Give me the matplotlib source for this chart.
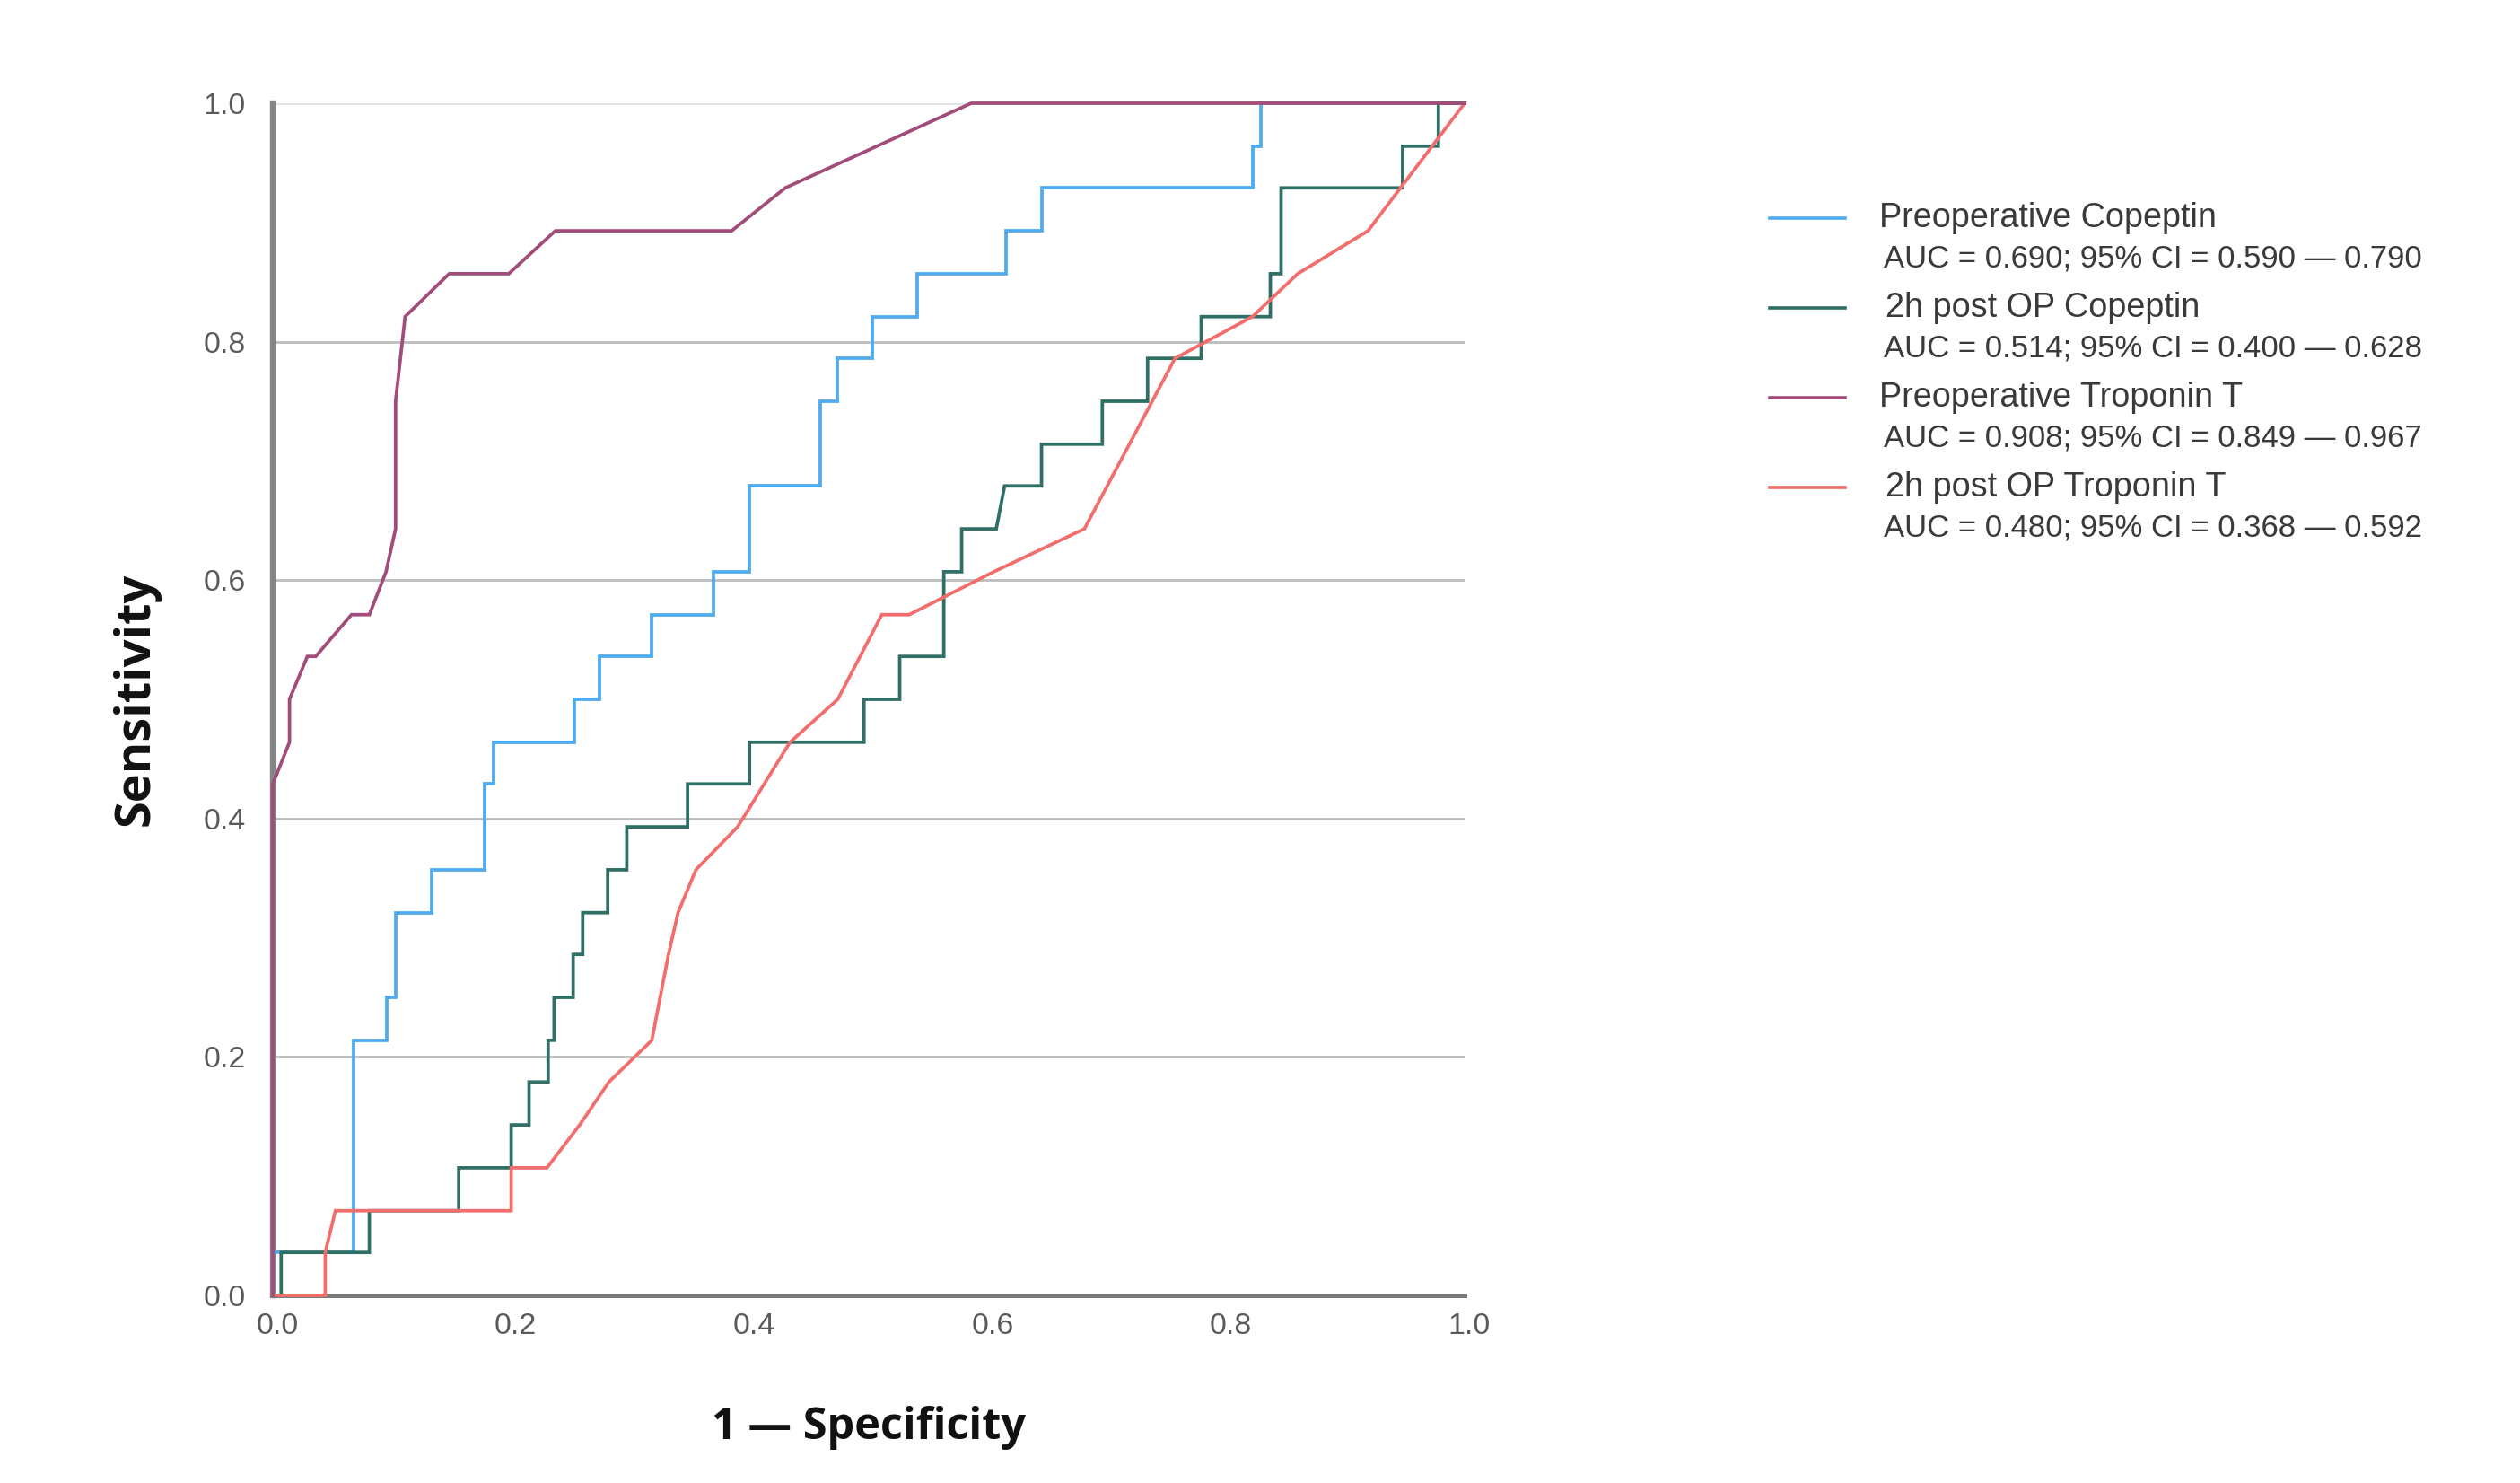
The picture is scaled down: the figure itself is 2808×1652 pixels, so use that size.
import matplotlib
matplotlib.use("Agg")
import matplotlib.pyplot as plt
from matplotlib.lines import Line2D
import matplotlib.transforms as mtransforms

# ---------------- data ----------------
series_names = ["Preoperative Copeptin", "2h post OP Copeptin",
                "Preoperative Troponin T", "2h post OP Troponin T"]
auc_texts = ["AUC = 0.690; 95% CI = 0.590 \u2014 0.790",
             "AUC = 0.514; 95% CI = 0.400 \u2014 0.628",
             "AUC = 0.908; 95% CI = 0.849 \u2014 0.967",
             "AUC = 0.480; 95% CI = 0.368 \u2014 0.592"]
colors = ["#4faaee", "#2f6f66", "#a24c7a", "#f26e6c"]

preop_cop_fpr = [0, 0, 0.068, 0.068, 0.096, 0.096, 0.103, 0.103, 0.133, 0.133,
                 0.178, 0.178, 0.185, 0.185, 0.253, 0.253, 0.274, 0.274, 0.318, 0.318,
                 0.370, 0.370, 0.400, 0.400, 0.459, 0.459, 0.474, 0.474, 0.503, 0.503,
                 0.541, 0.541, 0.615, 0.615, 0.645, 0.645, 0.822, 0.822, 0.829, 0.829, 1.0]
preop_cop_tpr = [0, 0.036, 0.036, 0.214, 0.214, 0.250, 0.250, 0.321, 0.321, 0.357,
                 0.357, 0.429, 0.429, 0.464, 0.464, 0.500, 0.500, 0.536, 0.536, 0.571,
                 0.571, 0.607, 0.607, 0.679, 0.679, 0.750, 0.750, 0.786, 0.786, 0.821,
                 0.821, 0.857, 0.857, 0.893, 0.893, 0.929, 0.929, 0.964, 0.964, 1.0, 1.0]

post_cop_fpr = [0, 0.007, 0.007, 0.081, 0.081, 0.156, 0.156, 0.200, 0.200, 0.215,
                0.215, 0.231, 0.231, 0.236, 0.236, 0.252, 0.252, 0.260, 0.260, 0.281,
                0.281, 0.297, 0.297, 0.348, 0.348, 0.400, 0.400, 0.496, 0.496, 0.526,
                0.526, 0.563, 0.563, 0.578, 0.578, 0.607, 0.614, 0.645, 0.645, 0.696,
                0.696, 0.734, 0.734, 0.779, 0.779, 0.837, 0.837, 0.846, 0.846, 0.948,
                0.948, 0.978, 0.978, 1.0]
post_cop_tpr = [0, 0, 0.036, 0.036, 0.071, 0.071, 0.107, 0.107, 0.143, 0.143,
                0.179, 0.179, 0.214, 0.214, 0.250, 0.250, 0.286, 0.286, 0.321, 0.321,
                0.357, 0.357, 0.393, 0.393, 0.429, 0.429, 0.464, 0.464, 0.500, 0.500,
                0.536, 0.536, 0.607, 0.607, 0.643, 0.643, 0.679, 0.679, 0.714, 0.714,
                0.750, 0.750, 0.786, 0.786, 0.821, 0.821, 0.857, 0.857, 0.929, 0.929,
                0.964, 0.964, 1.0, 1.0]

preop_trop_fpr = [0, 0, 0.014, 0.014, 0.029, 0.036, 0.066, 0.081, 0.095, 0.103,
                  0.103, 0.111, 0.148, 0.198, 0.237, 0.385, 0.430, 0.586, 1.0]
preop_trop_tpr = [0, 0.429, 0.464, 0.500, 0.536, 0.536, 0.571, 0.571, 0.607, 0.643,
                  0.750, 0.821, 0.857, 0.857, 0.893, 0.893, 0.929, 1.0, 1.0]

post_trop_fpr = [0, 0.044, 0.044, 0.0525, 0.200, 0.200, 0.230, 0.2575, 0.282, 0.318,
                 0.325, 0.332, 0.340, 0.355, 0.390, 0.434, 0.474, 0.511, 0.534, 0.605,
                 0.681, 0.757, 0.822, 0.860, 0.919, 1.0]
post_trop_tpr = [0, 0, 0.036, 0.071, 0.071, 0.107, 0.107, 0.143, 0.179, 0.214,
                 0.250, 0.286, 0.321, 0.357, 0.393, 0.464, 0.500, 0.571, 0.571, 0.607,
                 0.643, 0.786, 0.821, 0.857, 0.893, 1.0]

tick_values = [0.0, 0.2, 0.4, 0.6, 0.8, 1.0]
tick_labels = ["0.0", "0.2", "0.4", "0.6", "0.8", "1.0"]

# ---------------- figure ----------------
W, H, DPI = 2808, 1652, 200
fig = plt.figure(figsize=(W / DPI, H / DPI), dpi=DPI)
fig.patch.set_facecolor("white")

ax_l, ax_r, ax_t, ax_b = 304, 1632, 115, 1443
ax = fig.add_axes([ax_l / W, 1 - ax_b / H, (ax_r - ax_l) / W, (ax_b - ax_t) / H])
ax.set_xlim(0, 1)
ax.set_ylim(0, 1)

# grid lines
for v in tick_values[1:]:
    ax.axhline(v, color="#e2e2e2" if v == 1.0 else "#bcbcbc", lw=1.0, zorder=1)

for s in ["top", "right"]:
    ax.spines[s].set_visible(False)
ax.spines["left"].set_color("#858585")
ax.spines["left"].set_linewidth(2.3)
ax.spines["bottom"].set_color("#7a7a7a")
ax.spines["bottom"].set_linewidth(1.8)
ax.spines["left"].set_zorder(2)
ax.spines["bottom"].set_zorder(2)

xs = [preop_cop_fpr, post_cop_fpr, post_trop_fpr, preop_trop_fpr]
ys = [preop_cop_tpr, post_cop_tpr, post_trop_tpr, preop_trop_tpr]
cols = [colors[0], colors[1], colors[3], colors[2]]
for i, (x, y, c) in enumerate(zip(xs, ys, cols)):
    ax.plot(x, y, color=c, lw=1.35, clip_on=False, zorder=3 + i,
            solid_joinstyle="miter")

tick_font = ["Liberation Sans", "DejaVu Sans"]
ax.set_xticks(tick_values)
ax.set_yticks(tick_values)
ax.set_xticklabels(tick_labels, family=tick_font, fontsize=12.2, color="#5a5a5a")
ax.set_yticklabels(tick_labels, family=tick_font, fontsize=12.2, color="#5a5a5a")
ax.tick_params(axis="both", length=0)
ax.tick_params(axis="y", pad=11)
ax.tick_params(axis="x", pad=7)
shift = mtransforms.ScaledTranslation(5 / DPI, 0, fig.dpi_scale_trans)
for lbl in ax.get_xticklabels():
    lbl.set_transform(lbl.get_transform() + shift)

label_font = ["Open Sans", "DejaVu Sans"]
ax.set_ylabel("Sensitivity", family=label_font, fontweight="bold",
              fontsize=19.5, color="#111111", labelpad=17)
ax.set_xlabel("1 \u2014 Specificity", family=label_font, fontweight="bold",
              fontsize=17.5, color="#111111", labelpad=26)

# ---------------- legend (drawn manually in figure pixels) ----------------
leg_y = [243, 343, 443, 543]
name_x = [2094, 2101, 2094, 2101]
for i in range(4):
    yf = 1 - leg_y[i] / H
    fig.add_artist(Line2D([1972 / W, 2056 / W], [yf, yf], color=colors[i],
                          lw=1.3, transform=fig.transFigure))
    fig.text(name_x[i] / W, yf, series_names[i], family=tick_font,
             fontsize=13.6, color="#3a3a3a", ha="left", va="center")
    fig.text(2099 / W, 1 - (leg_y[i] + 45) / H, auc_texts[i], family=tick_font,
             fontsize=12.5, color="#3a3a3a", ha="left", va="center")

fig.savefig("out.png", dpi=DPI, facecolor="white")
